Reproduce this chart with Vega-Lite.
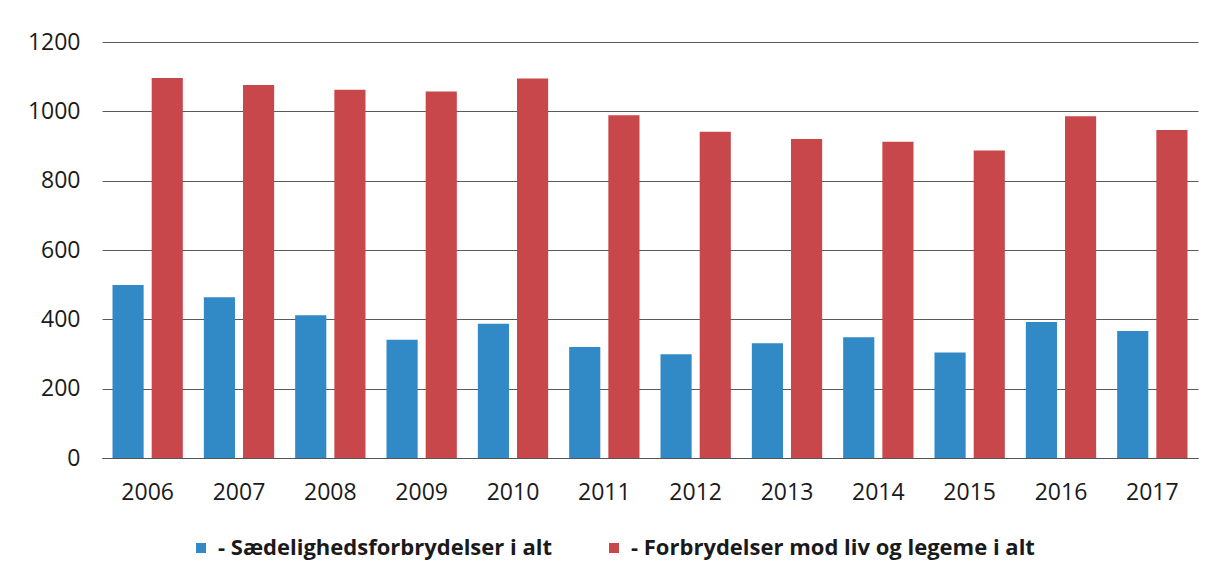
{
  "$schema": "https://vega.github.io/schema/vega-lite/v6.json",
  "autosize": {"type": "none"},
  "width": 1096,
  "height": 416,
  "padding": {"left": 102, "top": 42, "right": 19, "bottom": 124},
  "background": "white",
  "config": {
    "view": {"stroke": null},
    "font": "Open Sans"
  },
  "data": {
    "values": [
      {"year": "2006", "series": "- Sædelighedsforbrydelser i alt", "value": 499},
      {"year": "2006", "series": "- Forbrydelser mod liv og legeme i alt", "value": 1096},
      {"year": "2007", "series": "- Sædelighedsforbrydelser i alt", "value": 464},
      {"year": "2007", "series": "- Forbrydelser mod liv og legeme i alt", "value": 1076},
      {"year": "2008", "series": "- Sædelighedsforbrydelser i alt", "value": 412},
      {"year": "2008", "series": "- Forbrydelser mod liv og legeme i alt", "value": 1062},
      {"year": "2009", "series": "- Sædelighedsforbrydelser i alt", "value": 341},
      {"year": "2009", "series": "- Forbrydelser mod liv og legeme i alt", "value": 1057},
      {"year": "2010", "series": "- Sædelighedsforbrydelser i alt", "value": 387},
      {"year": "2010", "series": "- Forbrydelser mod liv og legeme i alt", "value": 1095},
      {"year": "2011", "series": "- Sædelighedsforbrydelser i alt", "value": 320},
      {"year": "2011", "series": "- Forbrydelser mod liv og legeme i alt", "value": 989},
      {"year": "2012", "series": "- Sædelighedsforbrydelser i alt", "value": 299},
      {"year": "2012", "series": "- Forbrydelser mod liv og legeme i alt", "value": 941},
      {"year": "2013", "series": "- Sædelighedsforbrydelser i alt", "value": 331},
      {"year": "2013", "series": "- Forbrydelser mod liv og legeme i alt", "value": 920},
      {"year": "2014", "series": "- Sædelighedsforbrydelser i alt", "value": 348},
      {"year": "2014", "series": "- Forbrydelser mod liv og legeme i alt", "value": 912},
      {"year": "2015", "series": "- Sædelighedsforbrydelser i alt", "value": 304},
      {"year": "2015", "series": "- Forbrydelser mod liv og legeme i alt", "value": 887},
      {"year": "2016", "series": "- Sædelighedsforbrydelser i alt", "value": 392},
      {"year": "2016", "series": "- Forbrydelser mod liv og legeme i alt", "value": 986},
      {"year": "2017", "series": "- Sædelighedsforbrydelser i alt", "value": 366},
      {"year": "2017", "series": "- Forbrydelser mod liv og legeme i alt", "value": 946}
    ]
  },
  "mark": {"type": "bar"},
  "encoding": {
    "x": {
      "field": "year",
      "type": "nominal",
      "scale": {"paddingInner": 0.23, "paddingOuter": 0.115},
      "axis": {
        "title": null,
        "labelAngle": 0,
        "ticks": false,
        "domain": true,
        "domainColor": "#555555",
        "domainWidth": 1.2,
        "labelFontSize": 23,
        "labelColor": "#1a1a1a",
        "labelPadding": 23,
        "grid": false
      }
    },
    "xOffset": {
      "field": "series",
      "type": "nominal",
      "scale": {"domain": ["- Sædelighedsforbrydelser i alt", "- Forbrydelser mod liv og legeme i alt"], "paddingInner": 0.205, "paddingOuter": 0}
    },
    "y": {
      "field": "value",
      "type": "quantitative",
      "scale": {"domain": [0, 1200], "nice": false},
      "axis": {
        "title": null,
        "format": "d",
        "values": [0, 200, 400, 600, 800, 1000, 1200],
        "domain": false,
        "ticks": false,
        "labelFontSize": 23,
        "labelColor": "#1a1a1a",
        "labelPadding": 22,
        "gridColor": "#5a5a5a",
        "gridWidth": 1.2
      }
    },
    "color": {
      "field": "series",
      "type": "nominal",
      "scale": {
        "domain": ["- Sædelighedsforbrydelser i alt", "- Forbrydelser mod liv og legeme i alt"],
        "range": ["#3189c6", "#c8474b"]
      },
      "legend": {
        "title": null,
        "orient": "none",
        "direction": "horizontal",
        "legendX": 88,
        "legendY": 495,
        "symbolType": "square",
        "symbolSize": 100,
        "symbolStrokeWidth": 0,
        "labelFontSize": 22,
        "labelFontWeight": "bold",
        "labelColor": "#1a1a1a",
        "labelOffset": 6,
        "labelLimit": 600,
        "columnPadding": 51
      }
    }
  }
}
